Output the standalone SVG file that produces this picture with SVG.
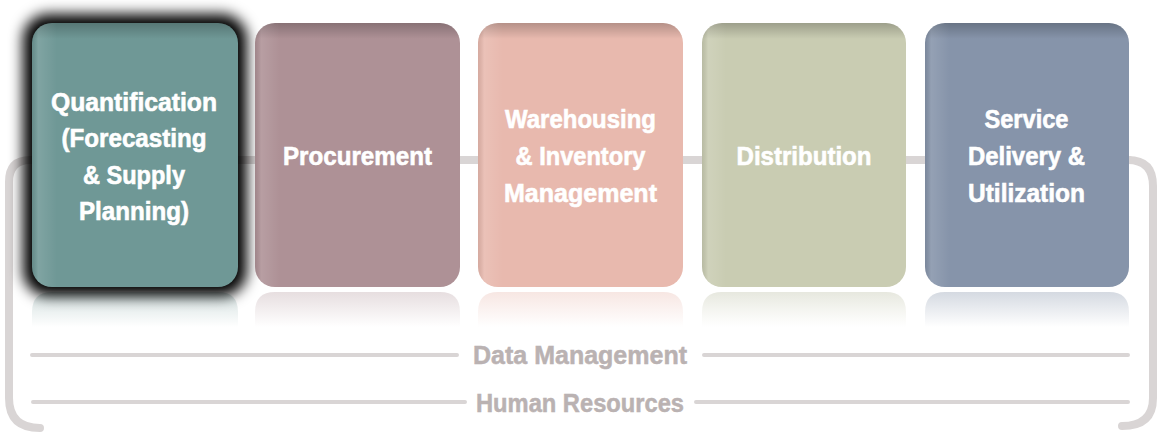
<svg xmlns="http://www.w3.org/2000/svg" width="1159" height="434" viewBox="0 0 1159 434">
<style>
.lbl{font-family:"Liberation Sans Narrow","Liberation Sans",Arial,sans-serif;font-weight:bold;font-size:26px;fill:#ffffff;stroke:#ffffff;stroke-width:0.6;text-anchor:middle}
.band{font-family:"Liberation Sans Narrow","Liberation Sans",Arial,sans-serif;font-weight:bold;font-size:25px;fill:#bab2b2;stroke:#bab2b2;stroke-width:0.5;text-anchor:middle}
.frame{fill:none;stroke:#d9d5d5;stroke-width:8;stroke-linecap:round}
.rule{fill:none;stroke:#d9d5d5;stroke-width:4;stroke-linecap:round}
</style>
<defs>
<filter id="glow" x="-30%" y="-30%" width="160%" height="160%"><feGaussianBlur stdDeviation="7"/></filter>
<linearGradient id="topShade" x1="0" y1="0" x2="0" y2="1">
<stop offset="0" stop-color="#000" stop-opacity="0.22"/>
<stop offset="0.06" stop-color="#000" stop-opacity="0"/>
</linearGradient>
<linearGradient id="leftShade" x1="0" y1="0" x2="1" y2="0">
<stop offset="0" stop-color="#000" stop-opacity="0.08"/>
<stop offset="0.03" stop-color="#fff" stop-opacity="0.12"/>
<stop offset="0.12" stop-color="#fff" stop-opacity="0"/>
</linearGradient>
<linearGradient id="refl1" x1="0" y1="0" x2="0" y2="1"><stop offset="0" stop-color="#6f9896" stop-opacity="0.3"/><stop offset="1" stop-color="#6f9896" stop-opacity="0"/></linearGradient>
<linearGradient id="refl2" x1="0" y1="0" x2="0" y2="1"><stop offset="0" stop-color="#ae9196" stop-opacity="0.3"/><stop offset="1" stop-color="#ae9196" stop-opacity="0"/></linearGradient>
<linearGradient id="refl3" x1="0" y1="0" x2="0" y2="1"><stop offset="0" stop-color="#e8b9ae" stop-opacity="0.35"/><stop offset="1" stop-color="#e8b9ae" stop-opacity="0"/></linearGradient>
<linearGradient id="refl4" x1="0" y1="0" x2="0" y2="1"><stop offset="0" stop-color="#b9bca2" stop-opacity="0.35"/><stop offset="1" stop-color="#c9ccb2" stop-opacity="0"/></linearGradient>
<linearGradient id="refl5" x1="0" y1="0" x2="0" y2="1"><stop offset="0" stop-color="#8694aa" stop-opacity="0.35"/><stop offset="1" stop-color="#8694aa" stop-opacity="0"/></linearGradient>
</defs>

<g id="connectors">
<path class="frame" d="M 40 160 L 30 160 Q 9 160 9 182 L 9 398 Q 9 428 40 428"/>
<path class="frame" d="M 236 160 L 1129 160"/>
<path class="frame" d="M 1120 160 L 1128 160 Q 1153 160 1153 186 L 1153 398 Q 1153 426 1122 426"/>
<path class="rule" d="M 32 355 L 457 355 M 704 355 L 1128 355"/>
<path class="rule" d="M 33 402 L 465 402 M 696 402 L 1128 402"/>
</g>

<g id="reflections">
<path d="M 32 327 L 32 312 Q 32 292 52 292 L 218 292 Q 238 292 238 312 L 238 327 Z" fill="url(#refl1)"/>
<path d="M 255 327 L 255 312 Q 255 292 275 292 L 440 292 Q 460 292 460 312 L 460 327 Z" fill="url(#refl2)"/>
<path d="M 478 327 L 478 312 Q 478 292 498 292 L 663 292 Q 683 292 683 312 L 683 327 Z" fill="url(#refl3)"/>
<path d="M 702 327 L 702 312 Q 702 292 722 292 L 886 292 Q 906 292 906 312 L 906 327 Z" fill="url(#refl4)"/>
<path d="M 925 327 L 925 312 Q 925 292 945 292 L 1109 292 Q 1129 292 1129 312 L 1129 327 Z" fill="url(#refl5)"/>
</g>

<g id="node-quantification">
<g filter="url(#glow)">
<rect x="23" y="14" width="224" height="282" rx="26" fill="#000"/>
<rect x="23" y="14" width="224" height="282" rx="26" fill="#000"/>
<rect x="23" y="14" width="224" height="282" rx="26" fill="#000"/>
</g>
<rect x="32" y="23" width="206" height="264" rx="20" fill="#6f9896"/>
<rect x="32" y="23" width="206" height="264" rx="20" fill="url(#topShade)"/>
<rect x="32" y="23" width="206" height="264" rx="20" fill="url(#leftShade)"/>
<text class="lbl" x="134" y="111" textLength="166" lengthAdjust="spacingAndGlyphs">Quantification</text>
<text class="lbl" x="134" y="147" textLength="145" lengthAdjust="spacingAndGlyphs">(Forecasting</text>
<text class="lbl" x="134" y="184" textLength="102" lengthAdjust="spacingAndGlyphs">&amp; Supply</text>
<text class="lbl" x="134" y="220" textLength="110" lengthAdjust="spacingAndGlyphs">Planning)</text>
</g>

<g id="node-procurement">
<rect x="255" y="23" width="205" height="264" rx="20" fill="#ae9196"/>
<rect x="255" y="23" width="205" height="264" rx="20" fill="url(#topShade)"/>
<rect x="255" y="23" width="205" height="264" rx="20" fill="url(#leftShade)"/>
<text class="lbl" x="357.5" y="165" textLength="149" lengthAdjust="spacingAndGlyphs">Procurement</text>
</g>

<g id="node-warehousing">
<rect x="478" y="23" width="205" height="264" rx="20" fill="#e8b9ae"/>
<rect x="478" y="23" width="205" height="264" rx="20" fill="url(#topShade)"/>
<rect x="478" y="23" width="205" height="264" rx="20" fill="url(#leftShade)"/>
<text class="lbl" x="580.5" y="128" textLength="151" lengthAdjust="spacingAndGlyphs">Warehousing</text>
<text class="lbl" x="580.5" y="165" textLength="130" lengthAdjust="spacingAndGlyphs">&amp; Inventory</text>
<text class="lbl" x="580.5" y="202" textLength="153" lengthAdjust="spacingAndGlyphs">Management</text>
</g>

<g id="node-distribution">
<rect x="702" y="23" width="204" height="264" rx="20" fill="#c9ccb2"/>
<rect x="702" y="23" width="204" height="264" rx="20" fill="url(#topShade)"/>
<rect x="702" y="23" width="204" height="264" rx="20" fill="url(#leftShade)"/>
<text class="lbl" x="804" y="165" textLength="135" lengthAdjust="spacingAndGlyphs">Distribution</text>
</g>

<g id="node-service">
<rect x="925" y="23" width="204" height="264" rx="20" fill="#8694aa"/>
<rect x="925" y="23" width="204" height="264" rx="20" fill="url(#topShade)"/>
<rect x="925" y="23" width="204" height="264" rx="20" fill="url(#leftShade)"/>
<text class="lbl" x="1026.5" y="128" textLength="84" lengthAdjust="spacingAndGlyphs">Service</text>
<text class="lbl" x="1026.5" y="165" textLength="117" lengthAdjust="spacingAndGlyphs">Delivery &amp;</text>
<text class="lbl" x="1026.5" y="202" textLength="117" lengthAdjust="spacingAndGlyphs">Utilization</text>
</g>

<g id="band-data">
<text class="band" x="580" y="364" textLength="214" lengthAdjust="spacingAndGlyphs">Data Management</text>
</g>
<g id="band-hr">
<text class="band" x="580" y="412" textLength="208" lengthAdjust="spacingAndGlyphs">Human Resources</text>
</g>
</svg>
